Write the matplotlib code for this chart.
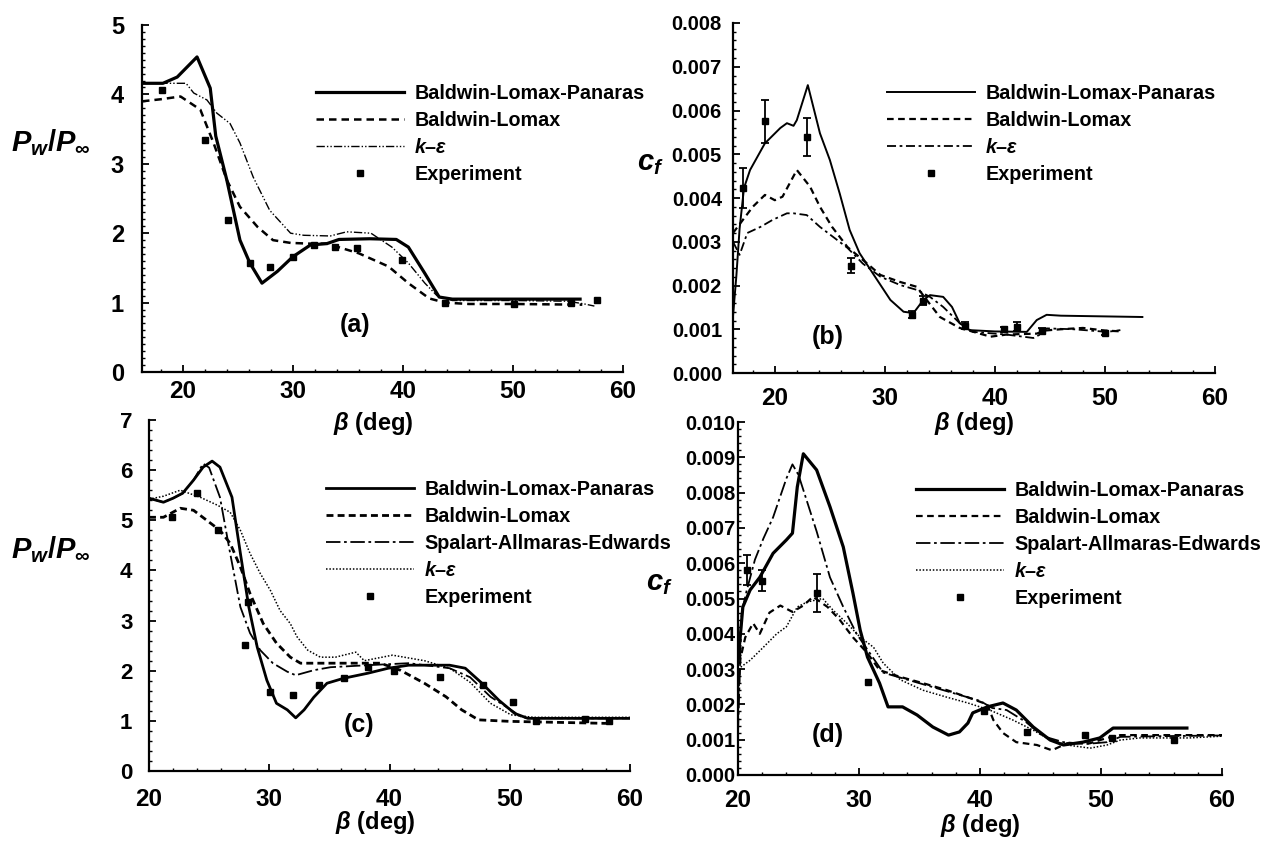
import numpy as np
import matplotlib
matplotlib.use("Agg")
import matplotlib.pyplot as plt
from matplotlib.ticker import MultipleLocator, FormatStrFormatter

plt.rcParams['font.family'] = ['Liberation Sans', 'DejaVu Sans']
plt.rcParams['font.weight'] = 'bold'
plt.rcParams['mathtext.fontset'] = 'custom'
plt.rcParams['mathtext.it'] = 'Liberation Sans:italic:bold'
plt.rcParams['mathtext.rm'] = 'Liberation Sans:bold'
plt.rcParams['mathtext.bf'] = 'Liberation Sans:bold'
plt.rcParams['mathtext.fallback'] = 'stixsans'

# ---- panel (a): wall pressure ----
a_x_blp = [16.3, 18.2, 19.5, 21.3, 22.5, 23.0, 24.0, 25.2, 26.1, 27.2, 28.6, 30.0, 31.6, 33.1,
           34.2, 37.0, 39.4, 40.5, 42.0, 43.3, 44.5, 50.0, 56.1]
a_y_blp = [4.16, 4.16, 4.25, 4.54, 4.09, 3.40, 2.77, 1.90, 1.57, 1.28, 1.45, 1.66, 1.83, 1.85,
           1.91, 1.92, 1.91, 1.80, 1.42, 1.08, 1.05, 1.05, 1.05]
a_x_bl = [16.3, 18.0, 19.8, 21.6, 22.8, 24.0, 25.2, 26.8, 28.2, 29.8, 31.5, 33.1, 36.0, 38.7,
          40.5, 42.4, 43.8, 46.0, 50.0, 56.3]
a_y_bl = [3.90, 3.93, 3.97, 3.78, 3.30, 2.77, 2.38, 2.09, 1.90, 1.86, 1.85, 1.85, 1.71, 1.52,
          1.28, 1.06, 1.00, 0.98, 0.98, 0.97]
a_x_ke = [16.3, 18.0, 20.3, 21.0, 22.2, 23.1, 24.3, 25.2, 26.4, 27.9, 29.8, 31.0, 33.4, 34.9,
          37.1, 39.0, 40.5, 42.0, 43.1, 44.5, 50.0, 55.0, 56.5, 57.4]
a_y_ke = [4.16, 4.16, 4.16, 4.02, 3.92, 3.73, 3.58, 3.30, 2.81, 2.33, 2.00, 1.97, 1.96, 2.02,
          2.00, 1.80, 1.57, 1.28, 1.10, 1.03, 1.03, 1.02, 0.98, 0.95]
a_exp_x = [18.1, 22.0, 24.1, 26.1, 27.9, 30.0, 31.9, 33.8, 35.8, 39.9, 43.8, 50.1, 55.3, 57.6]
a_exp_y = [4.06, 3.34, 2.19, 1.57, 1.52, 1.66, 1.83, 1.80, 1.78, 1.61, 1.00, 0.98, 1.00, 1.04]

# ---- panel (b): skin friction ----
b_x_blp = [16.2, 16.5, 16.8, 17.2, 17.75, 19.1, 20.5, 21.1, 21.7, 22.0, 23.0, 24.1, 25.0, 25.9,
           26.8, 27.7, 28.9, 30.5, 31.7, 32.6, 33.5, 34.1, 35.3, 36.1, 36.8, 37.7, 40.0, 42.9,
           43.8, 44.7, 46.0, 53.4]
b_y_blp = [0.0013, 0.0022, 0.0033, 0.00423, 0.00464, 0.00525, 0.0056, 0.00571, 0.00565, 0.00578,
           0.00658, 0.00548, 0.00487, 0.0041, 0.00327, 0.00274, 0.00228, 0.00167, 0.0014, 0.00137,
           0.00167, 0.00178, 0.00174, 0.00151, 0.00114, 0.00098, 0.00095, 0.00094, 0.00121,
           0.00133, 0.00131, 0.00128]
b_x_bl = [16.2, 17.1, 18.0, 19.1, 20.0, 20.7, 22.0, 23.2, 24.1, 25.2, 26.6, 28.4, 29.6, 31.4,
          32.9, 33.8, 35.0, 36.8, 39.6, 41.1, 43.8, 44.5, 46.0, 48.0, 50.0, 51.6]
b_y_bl = [0.0032, 0.0035, 0.0038, 0.00407, 0.00395, 0.00403, 0.00464, 0.00426, 0.0038, 0.00334,
          0.00288, 0.0025, 0.00224, 0.00208, 0.00197, 0.00167, 0.00128, 0.00103, 0.00083, 0.00088,
          0.00090, 0.00097, 0.00100, 0.00103, 0.00097, 0.00095]
b_x_ke = [16.2, 16.8, 17.5, 18.7, 19.8, 21.1, 21.7, 22.9, 24.1, 25.3, 26.6, 28.0, 29.6, 31.4,
          32.9, 34.1, 35.3, 36.8, 38.0, 41.0, 43.5, 44.1, 44.7, 47.1, 50.2, 51.4]
b_y_ke = [0.0030, 0.0027, 0.0032, 0.00334, 0.0035, 0.00365, 0.00365, 0.00361, 0.00334, 0.00311,
          0.00286, 0.0025, 0.0022, 0.00201, 0.0019, 0.00174, 0.00151, 0.00114, 0.00094, 0.00088,
          0.0008, 0.00088, 0.00102, 0.0010, 0.00094, 0.00098]
b_exp_x = [17.1, 19.1, 22.9, 26.9, 32.5, 33.5, 37.3, 40.8, 42.0, 44.3, 50.0]
b_exp_y = [0.00423, 0.00575, 0.0054, 0.00245, 0.00133, 0.00165, 0.00108, 0.00100, 0.00106,
           0.00097, 0.00092]
b_exp_err = [0.00045, 0.0005, 0.00043, 0.00017, 0.00008, 0.0001, 0.00008, 0.00006, 0.0001,
             0.00005, 0.00004]

# ---- panel (c): wall pressure ----
c_x_blp = [20.0, 21.2, 22.0, 22.8, 23.7, 24.5, 25.25, 25.9, 26.9, 27.6, 28.3, 29.0, 29.8, 30.6,
           31.5, 32.2, 32.9, 33.7, 34.8, 36.2, 38.2, 39.9, 41.6, 45.0, 46.3, 47.6, 49.1, 50.4,
           51.5, 55.0, 60.0]
c_y_blp = [5.44, 5.36, 5.44, 5.54, 5.80, 6.06, 6.18, 6.06, 5.46, 4.34, 3.27, 2.47, 1.81, 1.35,
           1.22, 1.06, 1.22, 1.47, 1.75, 1.85, 1.95, 2.05, 2.11, 2.11, 2.05, 1.77, 1.41, 1.15,
           1.05, 1.05, 1.05]
c_x_bl = [20.0, 21.2, 22.6, 23.7, 24.8, 25.9, 26.75, 27.6, 28.4, 29.5, 30.6, 31.75, 32.6, 35.1,
          39.25, 40.9, 42.9, 44.7, 46.0, 47.4, 50.0, 58.0]
c_y_bl = [5.06, 5.06, 5.24, 5.20, 5.00, 4.80, 4.54, 4.07, 3.54, 2.94, 2.55, 2.27, 2.15, 2.15,
          2.15, 2.01, 1.75, 1.48, 1.22, 1.02, 0.99, 0.95]
c_x_sae = [20.0, 21.2, 22.0, 22.8, 23.7, 24.5, 25.0, 25.9, 26.75, 27.6, 28.4, 29.25, 30.3, 31.5,
           32.2, 33.7, 35.1, 38.2, 41.6, 45.0, 46.7, 48.4, 50.1, 51.1, 55.0, 60.0]
c_y_sae = [5.44, 5.36, 5.44, 5.54, 5.80, 6.13, 6.05, 5.46, 4.34, 3.27, 2.75, 2.41, 2.15, 1.98,
           1.91, 2.01, 2.07, 2.11, 2.15, 2.05, 1.87, 1.48, 1.22, 1.06, 1.05, 1.05]
c_x_ke = [20.0, 21.2, 22.6, 24.25, 25.7, 26.75, 27.6, 28.4, 29.25, 30.1, 30.9, 31.75, 32.3, 33.2,
          34.25, 35.5, 37.2, 37.9, 40.25, 42.9, 45.0, 46.7, 48.4, 50.1, 52.0, 60.0]
c_y_ke = [5.42, 5.48, 5.60, 5.46, 5.30, 5.16, 4.80, 4.34, 3.94, 3.60, 3.20, 2.94, 2.68, 2.41,
          2.27, 2.27, 2.37, 2.20, 2.31, 2.20, 2.05, 1.77, 1.35, 1.12, 1.07, 1.07]
c_exp_x = [21.9, 24.0, 25.75, 28.0, 28.2, 30.1, 32.0, 34.1, 36.2, 38.2, 40.4, 44.2, 47.75, 50.25,
           52.2, 56.25, 58.25]
c_exp_y = [5.06, 5.54, 4.80, 2.51, 3.37, 1.58, 1.51, 1.72, 1.85, 2.07, 2.00, 1.87, 1.71, 1.38,
           1.00, 1.03, 1.00]

# ---- panel (d): skin friction ----
d_x_blp = [20.0, 20.4, 21.0, 21.8, 22.9, 24.0, 24.5, 24.9, 25.4, 26.5, 27.6, 28.7, 29.5, 30.1,
           30.7, 31.7, 32.4, 33.6, 34.8, 36.1, 37.4, 38.3, 39.0, 39.4, 40.6, 41.9, 43.0, 44.4,
           45.8, 46.9, 48.5, 49.9, 51.0, 57.1]
d_y_blp = [0.0032, 0.00476, 0.00524, 0.0056, 0.00628, 0.00666, 0.00685, 0.00816, 0.0091, 0.00864,
           0.0076, 0.00646, 0.00515, 0.0041, 0.00334, 0.0026, 0.00193, 0.00193, 0.0017, 0.00136,
           0.00113, 0.00122, 0.00147, 0.00176, 0.00193, 0.00204, 0.00184, 0.00136, 0.00099,
           0.00085, 0.00093, 0.00105, 0.00133, 0.00133]
d_x_bl = [20.0, 20.2, 20.6, 21.25, 21.8, 22.6, 23.5, 24.5, 25.4, 26.2, 27.4, 28.4, 29.5, 30.7,
          31.7, 33.4, 35.3, 37.3, 39.0, 40.6, 41.1, 41.9, 43.0, 44.7, 45.95, 47.2, 49.1, 50.5,
          51.6, 60.0]
d_y_bl = [0.0022, 0.0033, 0.0039, 0.0043, 0.0040, 0.0046, 0.0048, 0.00462, 0.0048, 0.00505,
          0.00476, 0.0044, 0.0039, 0.00345, 0.00297, 0.00278, 0.0026, 0.0024, 0.0022, 0.0020,
          0.00156, 0.00119, 0.00093, 0.00085, 0.0007, 0.0009, 0.0009, 0.00105, 0.00113, 0.00113]
d_x_sae = [20.0, 20.3, 20.7, 21.4, 22.1, 22.9, 23.5, 24.0, 24.5, 25.0, 26.5, 27.6, 28.7, 29.8,
           30.9, 32.0, 34.0, 36.0, 38.0, 40.0, 41.0, 42.2, 43.8, 45.2, 46.9, 48.8, 50.5, 51.6,
           55.0, 60.0]
d_y_sae = [0.0012, 0.0046, 0.0052, 0.0061, 0.0067, 0.0073, 0.0079, 0.0084, 0.0088, 0.0085,
           0.0069, 0.0056, 0.00476, 0.0040, 0.00345, 0.0029, 0.0027, 0.0025, 0.0023, 0.0021,
           0.0019, 0.00184, 0.0015, 0.0011, 0.00093, 0.00088, 0.00093, 0.00108, 0.0011, 0.00112]
d_x_ke = [20.0, 20.2, 21.0, 22.1, 23.2, 24.0, 24.9, 25.7, 27.0, 27.85, 29.0, 30.1, 31.2, 32.0,
          33.4, 35.3, 37.3, 39.0, 40.8, 42.7, 44.4, 45.8, 47.2, 49.1, 50.5, 51.6, 53.2, 57.3, 60.0]
d_y_ke = [0.0030, 0.00305, 0.00325, 0.00362, 0.0040, 0.0042, 0.00476, 0.0049, 0.0050, 0.00467,
          0.0043, 0.0039, 0.00362, 0.00317, 0.0027, 0.0024, 0.0022, 0.00204, 0.00184, 0.00156,
          0.00127, 0.00099, 0.00085, 0.00076, 0.00085, 0.00099, 0.00105, 0.00105, 0.0011]
d_exp_x = [20.75, 22.0, 26.5, 30.75, 40.3, 43.9, 48.7, 50.9, 56.0]
d_exp_y = [0.0058, 0.0055, 0.00515, 0.00263, 0.0018, 0.00122, 0.00113, 0.00105, 0.00099]
d_exp_err = [0.00043, 0.0003, 0.00054, 0.0, 0.0, 0.0, 0.0, 0.0, 0.0]

LBL_BLP = 'Baldwin-Lomax-Panaras'
LBL_BL = 'Baldwin-Lomax'
LBL_SAE = 'Spalart-Allmaras-Edwards'
LBL_KE = r'$k$–$\varepsilon$'
LBL_EXP = 'Experiment'

W, H = 1271, 841
fig = plt.figure(figsize=(W / 100, H / 100), dpi=100)


def rect(l, r, t, b):
    return [l / W, 1 - b / H, (r - l) / W, (b - t) / H]


def style_axes(ax, xlim, ylim, ymajor, yminor, xpad, ypad, ysize):
    ax.patch.set_visible(False)
    ax.set_xlim(*xlim)
    ax.set_ylim(*ylim)
    ax.xaxis.set_major_locator(MultipleLocator(10))
    ax.xaxis.set_minor_locator(MultipleLocator(2))
    ax.yaxis.set_major_locator(MultipleLocator(ymajor))
    ax.yaxis.set_minor_locator(MultipleLocator(yminor))
    for s in ['top', 'right']:
        ax.spines[s].set_visible(False)
    for s in ['left', 'bottom']:
        ax.spines[s].set_linewidth(1.6)
    ax.tick_params(which='major', direction='in', length=5, width=1.3)
    ax.tick_params(which='minor', direction='in', length=2.5, width=1.0)
    ax.tick_params(axis='x', which='major', labelsize=17.5, pad=xpad)
    ax.tick_params(axis='y', which='major', labelsize=ysize, pad=ypad)


def add_legend(ax, x, y, handles):
    leg = ax.legend(handles=handles, loc='upper left', bbox_to_anchor=(x / W, 1 - y / H),
                    bbox_transform=fig.transFigure, frameon=False, borderpad=0,
                    borderaxespad=0, handlelength=4.45, handletextpad=0.53,
                    labelspacing=0.4, numpoints=1, prop={'size': 14.2, 'weight': 'bold'})
    return leg


k = 'black'
dash = (0, (3, 2))

# (a)
ax = fig.add_axes(rect(142, 623, 25, 372))
h1, = ax.plot(a_x_blp, a_y_blp, color=k, lw=2.3, label=LBL_BLP)
h2, = ax.plot(a_x_bl, a_y_bl, color=k, lw=1.8, ls=dash, label=LBL_BL)
h3, = ax.plot(a_x_ke, a_y_ke, color=k, lw=1.0, ls=(0, (6, 1.5, 1, 1.5, 1, 1.5)), label=LBL_KE)
h4, = ax.plot(a_exp_x, a_exp_y, 's', color=k, ms=4.5, ls='none', label=LBL_EXP)
style_axes(ax, (16.3, 60), (0, 5), 1, 0.1, 6, 13, 17)
ax.set_xlabel(r'$\beta$ (deg)', fontsize=17, fontweight='bold')
ax.xaxis.set_label_coords(0.48, -0.11)
ax.set_ylabel(r'$P_w/P_\infty$', fontsize=21, rotation=0, ha='center', va='center')
ax.yaxis.set_label_coords(-0.19, 0.66)
ax.text(35.7, 0.68, '(a)', fontsize=18, fontweight='bold', ha='center', va='center')
add_legend(ax, 316, 84, [h1, h2, h3, h4])

# (b)
ax = fig.add_axes(rect(733, 1215, 23, 373))
h1, = ax.plot(b_x_blp, b_y_blp, color=k, lw=1.4, label=LBL_BLP)
h2, = ax.plot(b_x_bl, b_y_bl, color=k, lw=1.6, ls=dash, label=LBL_BL)
h3, = ax.plot(b_x_ke, b_y_ke, color=k, lw=1.3, ls=(0, (5, 2, 1.5, 2)), label=LBL_KE)
ax.errorbar(b_exp_x, b_exp_y, yerr=b_exp_err, fmt='none', ecolor=k, elinewidth=1.3,
            capsize=3, capthick=1.3)
h4, = ax.plot(b_exp_x, b_exp_y, 's', color=k, ms=4.5, ls='none', label=LBL_EXP)
style_axes(ax, (16.2, 60), (0, 0.008), 0.001, 0.0002, 10, 8, 14.5)
ax.yaxis.set_major_formatter(FormatStrFormatter('%.3f'))
ax.set_xlabel(r'$\beta$ (deg)', fontsize=17, fontweight='bold')
ax.xaxis.set_label_coords(0.5, -0.107)
ax.set_ylabel(r'$c_f$', fontsize=21, rotation=0, ha='center', va='center')
ax.yaxis.set_label_coords(-0.171, 0.6)
ax.text(24.8, 0.00082, '(b)', fontsize=18, fontweight='bold', ha='center', va='center')
add_legend(ax, 887, 84, [h1, h2, h3, h4])

# (c)
ax = fig.add_axes(rect(149, 630, 420, 771))
h1, = ax.plot(c_x_blp, c_y_blp, color=k, lw=2.0, label=LBL_BLP)
h2, = ax.plot(c_x_bl, c_y_bl, color=k, lw=2.0, ls=(0, (2.5, 1.5)), label=LBL_BL)
h3, = ax.plot(c_x_sae, c_y_sae, color=k, lw=1.3, ls=(0, (8, 2, 1.5, 2)), label=LBL_SAE)
h4, = ax.plot(c_x_ke, c_y_ke, color=k, lw=1.1, ls=(0, (1, 1.2)), label=LBL_KE)
h5, = ax.plot(c_exp_x, c_exp_y, 's', color=k, ms=4.5, ls='none', label=LBL_EXP)
style_axes(ax, (20, 60), (0, 7), 1, 0.2, 12, 12, 16)
ax.set_xlabel(r'$\beta$ (deg)', fontsize=17, fontweight='bold')
ax.xaxis.set_label_coords(0.47, -0.107)
ax.set_ylabel(r'$P_w/P_\infty$', fontsize=21, rotation=0, ha='center', va='center')
ax.yaxis.set_label_coords(-0.204, 0.63)
ax.text(37.5, 0.92, '(c)', fontsize=18, fontweight='bold', ha='center', va='center')
add_legend(ax, 326, 480, [h1, h2, h3, h4, h5])

# (d)
ax = fig.add_axes(rect(738, 1222, 422, 775))
h1, = ax.plot(d_x_blp, d_y_blp, color=k, lw=2.3, label=LBL_BLP)
h2, = ax.plot(d_x_bl, d_y_bl, color=k, lw=1.6, ls=dash, label=LBL_BL)
h3, = ax.plot(d_x_sae, d_y_sae, color=k, lw=1.3, ls=(0, (8, 2, 1.5, 2)), label=LBL_SAE)
h4, = ax.plot(d_x_ke, d_y_ke, color=k, lw=1.1, ls=(0, (1, 1.2)), label=LBL_KE)
d_err = np.array(d_exp_err)
mask = d_err > 0
ax.errorbar(np.array(d_exp_x)[mask], np.array(d_exp_y)[mask], yerr=d_err[mask], fmt='none',
            ecolor=k, elinewidth=1.3, capsize=3, capthick=1.3)
h5, = ax.plot(d_exp_x, d_exp_y, 's', color=k, ms=4.5, ls='none', label=LBL_EXP)
style_axes(ax, (20, 60), (0, 0.010), 0.001, 0.0002, 10, 2, 14.5)
ax.yaxis.set_major_formatter(FormatStrFormatter('%.3f'))
ax.set_xlabel(r'$\beta$ (deg)', fontsize=17, fontweight='bold')
ax.xaxis.set_label_coords(0.5, -0.105)
ax.set_ylabel(r'$c_f$', fontsize=21, rotation=0, ha='center', va='center')
ax.yaxis.set_label_coords(-0.163, 0.544)
ax.text(27.4, 0.00113, '(d)', fontsize=18, fontweight='bold', ha='center', va='center')
add_legend(ax, 916, 481, [h1, h2, h3, h4, h5])

fig.savefig('out.png', dpi=100)
